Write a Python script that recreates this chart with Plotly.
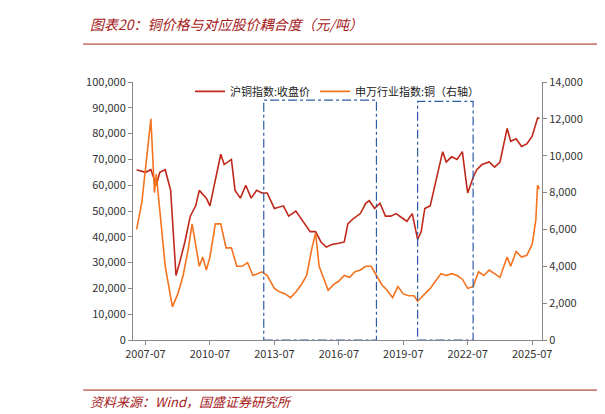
import plotly.graph_objects as go

copper_dates = ["2007-02","2007-07","2007-10","2008-01","2008-03","2008-06","2008-09","2008-11","2008-12","2009-02","2009-05","2009-08","2009-11","2010-01","2010-05","2010-07","2010-10","2011-01","2011-03","2011-07","2011-09","2011-12","2012-03","2012-06","2012-09","2012-12","2013-03","2013-07","2013-12","2014-03","2014-07","2014-12","2015-03","2015-06","2015-09","2015-12","2016-03","2016-07","2016-10","2016-12","2017-03","2017-07","2017-10","2017-12","2018-03","2018-06","2018-09","2018-12","2019-03","2019-07","2019-09","2019-12","2020-03","2020-05","2020-07","2020-10","2020-12","2021-03","2021-05","2021-07","2021-10","2022-01","2022-04","2022-06","2022-07","2022-10","2022-12","2023-03","2023-07","2023-10","2024-01","2024-05","2024-07","2024-10","2025-01","2025-04","2025-07","2025-10","2025-11"]
copper_values = [66000,65000,66000,60000,65000,66000,58000,35000,25000,30000,38000,48000,52000,58000,55000,52000,62000,72000,68000,70000,58000,55000,60000,55000,58000,57000,57000,51000,52000,48000,50000,45000,42000,42000,38000,36000,37000,37500,38000,45000,47000,49000,53000,54000,51000,53000,48000,48000,49000,47000,46000,49000,39000,42000,51000,52000,58000,66000,73000,69000,71000,70000,73000,62000,57000,63000,66000,68000,69000,67000,69000,82000,77000,78000,75000,76000,79000,86000,86000]

index_dates = ["2007-02","2007-05","2007-10","2007-12","2008-01","2008-06","2008-10","2009-01","2009-04","2009-07","2009-09","2010-01","2010-03","2010-05","2010-07","2010-10","2011-01","2011-04","2011-07","2011-10","2012-01","2012-04","2012-07","2012-12","2013-03","2013-07","2013-10","2014-01","2014-04","2014-07","2014-10","2015-01","2015-04","2015-06","2015-08","2015-10","2016-01","2016-04","2016-07","2016-10","2017-01","2017-04","2017-07","2017-10","2018-01","2018-04","2018-07","2018-10","2019-01","2019-04","2019-07","2019-10","2020-01","2020-03","2020-07","2020-10","2021-01","2021-04","2021-07","2021-10","2022-01","2022-04","2022-07","2022-10","2023-01","2023-04","2023-07","2023-10","2024-01","2024-05","2024-07","2024-10","2025-01","2025-04","2025-07","2025-09","2025-10","2025-11"]
index_values = [6000,7500,12000,8000,9000,4000,1800,2500,3500,5000,6300,4000,4500,3800,4500,6300,6300,5000,5000,4000,4000,4200,3500,3700,3500,2800,2600,2500,2300,2600,3000,3500,5000,5800,4000,3500,2700,3000,3200,3500,3400,3700,3800,4000,4000,3500,3000,2700,2300,2900,2500,2400,2400,2100,2500,2800,3200,3600,3500,3600,3500,3300,2800,2900,3700,3500,3800,3600,3400,4500,4000,4800,4500,4600,5200,6500,8400,8200]

x_ticks = ["2007-07","2010-07","2013-07","2016-07","2019-07","2022-07","2025-07"]
boxes = [("2013-01","2018-04",93000), ("2020-03","2022-10",92500)]

fig = go.Figure()
fig.add_trace(go.Scatter(x=copper_dates, y=copper_values, name="沪铜指数:收盘价",
                         line=dict(color="#C0281B", width=1.6)))
fig.add_trace(go.Scatter(x=index_dates, y=index_values, name="申万行业指数:铜（右轴）",
                         line=dict(color="#F4731F", width=1.6), yaxis="y2"))
for x0, x1, top in boxes:
    fig.add_shape(type="rect", x0=x0, x1=x1, y0=0, y1=top, xref="x", yref="y", layer="above",
                  line=dict(color="#2E5CA8", width=1.2, dash="dashdot"))

font = "Noto Sans CJK SC"
fig.update_layout(
    width=605, height=414, margin=dict(l=125, r=71, t=74, b=82),
    paper_bgcolor="white", plot_bgcolor="white", showlegend=True,
    font=dict(family=font, size=11, color="#333"),
    legend=dict(orientation="h", x=0.5, xanchor="center", y=1.02, yanchor="top",
                font=dict(size=11, color="#222"), bgcolor="rgba(0,0,0,0)"),
    xaxis=dict(type="date", range=["2006-12-01", "2025-12-15"],
               tickvals=x_ticks, ticktext=x_ticks, showgrid=False,
               showline=True, linecolor="#888", ticks="outside", ticklen=4, tickcolor="#888"),
    yaxis=dict(range=[0, 100000], tickvals=list(range(0, 100001, 10000)),
               tickformat=",d", showgrid=False, showline=True, linecolor="#888",
               ticks="outside", ticklen=4, tickcolor="#888"),
    yaxis2=dict(range=[0, 14000], tickvals=list(range(0, 14001, 2000)), tickformat=",d",
                overlaying="y", side="right", showgrid=False, showline=True,
                linecolor="#888", ticks="outside", ticklen=4, tickcolor="#888"),
)
fig.add_annotation(text="<i>图表20：铜价格与对应股价耦合度（元/吨）</i>", xref="paper", yref="paper",
                   x=-0.11, y=1.225, xanchor="left", yanchor="middle", showarrow=False,
                   font=dict(family=font, size=14, color="#A5201A"))
fig.add_shape(type="line", xref="paper", yref="paper", x0=-0.122, x1=1.137,
              y0=1.147, y1=1.147, line=dict(color="#A5201A", width=1))
fig.add_annotation(text="<i>资料来源：Wind，国盛证券研究所</i>", xref="paper", yref="paper",
                   x=-0.11, y=-0.24, xanchor="left", yanchor="middle", showarrow=False,
                   font=dict(family=font, size=13, color="#A5201A"))
fig.add_shape(type="line", xref="paper", yref="paper", x0=-0.122, x1=1.137,
              y0=-0.194, y1=-0.194, line=dict(color="#A5201A", width=1))
fig.write_html("out.html")
